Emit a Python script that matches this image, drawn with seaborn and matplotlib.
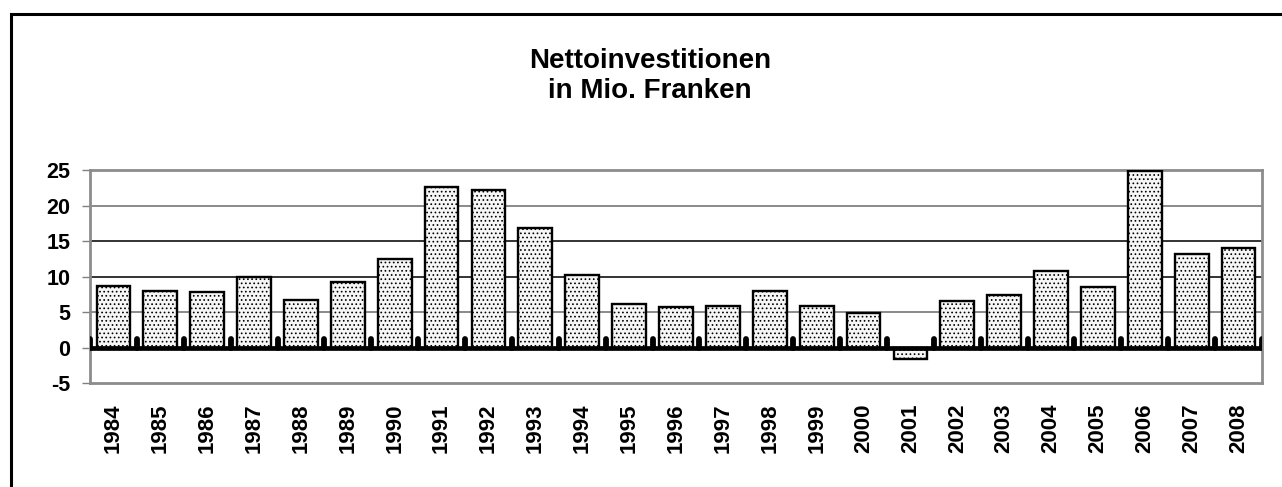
import matplotlib
matplotlib.use("Agg")
import matplotlib.pyplot as plt
import seaborn as sns
import numpy as np
import pandas as pd
from matplotlib.patches import Rectangle

years = ["1984", "1985", "1986", "1987", "1988", "1989", "1990", "1991", "1992", "1993",
         "1994", "1995", "1996", "1997", "1998", "1999", "2000", "2001", "2002", "2003",
         "2004", "2005", "2006", "2007", "2008"]
values = [8.6, 7.9, 7.8, 10.0, 6.7, 9.25, 12.5, 22.6, 22.2, 16.8,
          10.2, 6.15, 5.7, 5.9, 8.0, 5.8, 4.9, -1.6, 6.5, 7.4,
          10.8, 8.5, 24.9, 13.2, 14.0]
yticks = [-5, 0, 5, 10, 15, 20, 25]
title = "Nettoinvestitionen\nin Mio. Franken"

sns.set_style("white")
plt.rcParams['font.family'] = ['Liberation Sans', 'DejaVu Sans']
plt.rcParams['hatch.color'] = '#a8a8a8'
plt.rcParams['hatch.linewidth'] = 0.7

df = pd.DataFrame({"Jahr": years, "Wert": values})

fig = plt.figure(figsize=(12.82, 4.87), dpi=100)
ax = fig.add_axes([90/1282, 1-383/487, (1262-90)/1282, (383-170)/487])

sns.barplot(data=df, x="Jahr", y="Wert", color="white", width=0.72,
            edgecolor="black", linewidth=1.7, saturation=1, ax=ax, zorder=3)
for p in ax.patches:
    p.set_facecolor("#f6f6f6")
    p.set_hatch("....")

n = len(years)
ax.set_xlim(-0.5, n - 0.5)
ax.set_ylim(yticks[0], yticks[-1])
ax.set_yticks(yticks)
ax.set_yticklabels([str(v) for v in yticks], fontsize=15.5, fontweight="bold",
                   color="black")
ax.set_xticks(range(n))
ax.set_xticklabels(years, rotation=90, fontsize=16, fontweight="bold", color="black")
ax.set_xlabel("")
ax.set_ylabel("")

ax.tick_params(axis="y", length=6, width=1, color="#808080", pad=8, left=True)
ax.tick_params(axis="x", length=0, pad=15)

# gridlines
grid_colors = {20: "#777777", 15: "#111111", 10: "#111111", 5: "#777777"}
for v, c in grid_colors.items():
    ax.axhline(v, color=c, lw=1.2, zorder=1)

for s in ax.spines.values():
    s.set_color("#8c8c8c")
    s.set_linewidth(2)

# zero axis line with boundary tick marks
ax.axhline(0, color="black", lw=3.4, zorder=4)
ax.vlines(np.arange(n + 1) - 0.5, 0, 1.15, color="black", lw=4.2,
          capstyle="round", zorder=4)

fig.text(650/1282, 1-76/487, title, ha="center", va="center",
         fontsize=20, fontweight="bold", linespacing=1.25, color="black")

fig.patches.append(Rectangle((11/1282, -0.1), 1.2, (1-14/487) + 0.1,
                             transform=fig.transFigure, fill=False,
                             edgecolor="black", lw=2.2))

fig.savefig("out.png", dpi=100)
